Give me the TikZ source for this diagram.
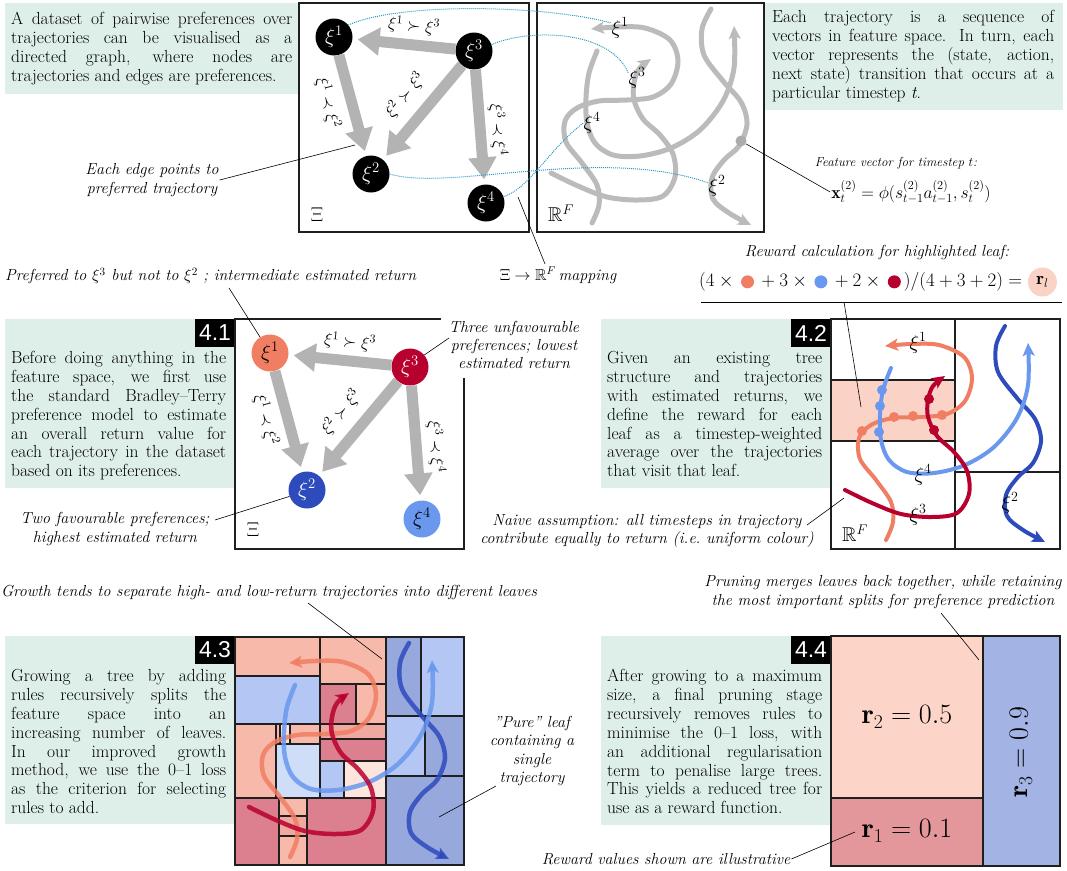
\RequirePackage{fix-cm}
\documentclass[tikz,border=0pt]{standalone}
\usepackage{amssymb}
\usepackage{fontspec}
\newfontfamily\lblfont{Liberation Sans}
\usetikzlibrary{arrows.meta}
\definecolor{mint}{HTML}{DDEFE8}
\definecolor{salm}{HTML}{F07E63}
\definecolor{crim}{HTML}{B8002E}
\definecolor{dblue}{HTML}{2E4BBE}
\definecolor{lblue}{HTML}{6A98EE}
\definecolor{edgegray}{HTML}{B3B3B3}
\definecolor{trajgray}{HTML}{BBBBBB}
\definecolor{dotcol}{HTML}{2E9AC4}
\definecolor{band}{HTML}{FBD3C6}
\definecolor{salA}{HTML}{F7B9AA}
\definecolor{salM}{HTML}{F0A9A0}
\definecolor{pinkD}{HTML}{DC7F8F}
\definecolor{pinkVL}{HTML}{FBE5DD}
\definecolor{blueL}{HTML}{B4C7F4}
\definecolor{blueM}{HTML}{97A8DC}
\definecolor{blueVL}{HTML}{CEDDF8}
\definecolor{rtwo}{HTML}{FDD5C8}
\definecolor{rone}{HTML}{E4979A}
\definecolor{rthree}{HTML}{A3B3E4}

\newcommand\trajone[1]{\draw[#1] plot[smooth,tension=.55] coordinates {(55,220) (62,202) (60,182) (45,160) (29,139) (28,118) (40,105) (62,98) (90,97) (116,94) (134,81) (141,58) (133,37) (108,25) (80,24) (54,26)};}
\newcommand\trajfour[1]{\draw[#1] plot[smooth,tension=.55] coordinates {(60,48) (52,70) (49,95) (50,120) (58,140) (76,152) (103,153) (134,145) (163,127) (186,98) (197,65) (197,23)};}
\newcommand\trajthree[1]{\draw[#1] plot[smooth,tension=.55] coordinates {(14,170) (41,183) (70,194) (101,197) (126,193) (138,174) (136,151) (123,132) (106,116) (97,97) (97,80) (102,66) (114,56)};}
\newcommand\trajtwo[1]{\draw[#1] plot[smooth,tension=.55] coordinates {(174,6) (165,26) (167,52) (186,78) (204,99) (210,121) (202,143) (187,157) (175,175) (176,196) (192,210) (214,222)};}
\newcommand\sdot[1]{\tikz[baseline=-0.6ex]\fill[#1] (0,0) circle (6.5pt);}

\begin{document}
\begin{tikzpicture}[x=1pt,y=-1pt,
  boxframe/.style={draw=black!88, line width=1.4pt},
  inner/.style={draw=black!88, line width=1.2pt},
  tagbox/.style={fill=black, text=white, font=\lblfont\fontsize{23}{23}\selectfont, minimum width=40pt, minimum height=28pt, inner sep=0pt},
  body/.style={anchor=north west, inner sep=0pt, text width=#1, align=justify, font=\fontsize{17.5}{18.9}\selectfont},
  note/.style={font=\itshape\fontsize{16}{18.3}\selectfont, inner sep=1pt, align=center},
  ptr/.style={draw=black, line width=0.6pt},
  gnode/.style={circle, minimum size=37pt, inner sep=0pt, font=\fontsize{21}{21}\selectfont},
  gedge/.style={draw=edgegray, line width=11pt, -{Triangle[length=22pt,width=27pt]}, shorten >=5pt},
  elabel/.style={font=\fontsize{17}{17}\selectfont, inner sep=0pt},
  traj/.style={line width=#1, line cap=round, -{Stealth[length=13pt,width=12pt,inset=3pt]}},
  dotline/.style={draw=dotcol, line width=1pt, densely dotted},
  cell/.style={draw=black!88, line width=1.1pt},
  spacelabel/.style={font=\fontsize{20}{20}\selectfont, inner sep=0pt},
]
\useasboundingbox (0,0) rectangle (1067,870);

% ================= TOP ROW =================
\fill[mint] (5,3) rectangle (299,94);
\node[body=281pt] (tltext) at (11,12) {A dataset of pairwise preferences over\linebreak trajectories can be visualised as a\linebreak directed graph, where nodes are\linebreak trajectories and edges are preferences.};
\fill[mint] (765,3) rectangle (1063,110);
\node[body=282pt] (trtext) at (772,10) {Each trajectory is a sequence of\linebreak vectors in feature space. In turn, each\linebreak vector represents the (state, action,\linebreak next state) transition that occurs at a\linebreak particular timestep \textit{t}.};

\draw[boxframe] (299,3) rectangle (529,232);
\draw[boxframe] (537,3) rectangle (764,232);

\begin{scope}[shift={(299,3)}]
  \node[gnode, fill=black, text=white] (t1) at (35,34) {$\xi^1$};
  \node[gnode, fill=black, text=white] (t3) at (175,48) {$\xi^3$};
  \node[gnode, fill=black, text=white] (t2) at (72,171) {$\xi^2$};
  \node[gnode, fill=black, text=white] (t4) at (187,200) {$\xi^4$};
  \draw[gedge] (t3) -- (t1);
  \draw[gedge] (t1) -- (t2);
  \draw[gedge] (t3) -- (t2);
  \draw[gedge] (t3) -- (t4);
  \node[elabel, rotate=-5] (tl13) at (115,23) {$\xi^1 \succ \xi^3$};
  \node[elabel, rotate=-75] (tl12) at (29,100) {$\xi^1 \prec \xi^2$};
  \node[elabel, rotate=50] (tl32) at (106,92) {$\xi^2 \succ \xi^3$};
  \node[elabel, rotate=-85] (tl34) at (199,127) {$\xi^3 \prec \xi^4$};
  \node[spacelabel] (txi) at (18,212) {$\Xi$};
\end{scope}

\begin{scope}[shift={(537,3)}]
  \trajtwo{traj=5pt, trajgray}
  \trajone{traj=5pt, trajgray}
  \trajfour{traj=5pt, trajgray}
  \trajthree{traj=5pt, trajgray}
  \node[circle, fill=black!33, minimum size=11pt, inner sep=0pt] (fdot) at (204,138) {};
  \node[spacelabel] (rf1) at (83,25) {$\xi^1$};
  \node[spacelabel] (rf3) at (100,75) {$\xi^3$};
  \node[spacelabel] (rf4) at (55,120) {$\xi^4$};
  \node[spacelabel] (rf2) at (180,183) {$\xi^2$};
  \node[spacelabel] (trf) at (24,210) {$\mathbb{R}^F$};
\end{scope}

\draw[dotline] (t1.40) .. controls (400,2) and (545,5) .. (rf1.150);
\draw[dotline] (t3.20) .. controls (530,28) and (610,30) .. (rf3.150);
\draw[dotline] (t2.east) .. controls (450,192) and (600,145) .. (rf2.160);
\draw[dotline] (t4.20) .. controls (530,188) and (548,150) .. (rf4.west);

\node[note, font=\itshape\fontsize{13}{15}\selectfont] (feattext) at (896,163) {Feature vector for timestep $t$:};
\node[font=\fontsize{17.5}{17.5}\selectfont, inner sep=1pt] (featform) at (911,192) {$\mathbf{x}_t^{(2)} = \phi(s_{t-1}^{(2)}a_{t-1}^{(2)}, s_t^{(2)})$};
\draw[ptr] (fdot) -- (featform.west);

\node[note] (edgenote) at (152,180) {Each edge points to\\preferred trajectory};
\coordinate (edgetgt) at (355,145);
\draw[ptr] (edgenote.east) -- (edgetgt);

\node[note] (mapnote) at (558,275) {$\Xi\rightarrow\mathbb{R}^F$\,mapping};
\coordinate (mapP) at (518,197);
\coordinate (mapQ) at (545,264);
\draw[ptr] (mapP) -- (mapQ);

% ================= MIDDLE ROW =================
\fill[mint] (5,319) rectangle (235,488);
\node[tagbox] (tag1) at (215,333) {4.1};
\node[body=215pt] (t41) at (11,351) {Before doing anything in the\linebreak feature space, we first use\linebreak the standard Bradley--Terry\linebreak preference model to estimate\linebreak an overall return value for\linebreak each trajectory in the dataset\linebreak based on its preferences.};
\draw[boxframe] (441,319) -- (235,319) -- (235,549) -- (464,549) -- (464,378);

\begin{scope}[shift={(235,319)}]
  \node[gnode, fill=salm, text=black] (m1) at (35,34) {$\xi^1$};
  \node[gnode, fill=crim, text=white] (m3) at (175,48) {$\xi^3$};
  \node[gnode, fill=dblue, text=white] (m2) at (72,171) {$\xi^2$};
  \node[gnode, fill=lblue, text=black] (m4) at (187,200) {$\xi^4$};
  \draw[gedge] (m3) -- (m1);
  \draw[gedge] (m1) -- (m2);
  \draw[gedge] (m3) -- (m2);
  \draw[gedge] (m3) -- (m4);
  \node[elabel, rotate=-5] (ml13) at (115,23) {$\xi^1 \succ \xi^3$};
  \node[elabel, rotate=-75] (ml12) at (31,101) {$\xi^1 \prec \xi^2$};
  \node[elabel, rotate=50] (ml32) at (106,93) {$\xi^2 \succ \xi^3$};
  \node[elabel, rotate=-85] (ml34) at (201,128) {$\xi^3 \prec \xi^4$};
  \node[spacelabel] (mxi) at (18,211) {$\Xi$};
\end{scope}

\node[note, anchor=west] (prefnote) at (4,276) {Preferred to $\xi^3$ but not to $\xi^2$ ; intermediate estimated return};
\coordinate (prefP) at (229,288);
\draw[ptr] (prefP) -- (m1.122);

\node[note] (unfav) at (514,345) {Three unfavourable\\preferences; lowest\\estimated return};
\coordinate (unfavP) at (449,338);
\draw[ptr] (unfavP) -- (m3.40);

\node[note] (fav) at (115,529) {Two favourable preferences;\\highest estimated return};
\coordinate (favP) at (215,520);
\draw[ptr] (favP) -- (m2.200);

% 4.2
\fill[mint] (601,319) rectangle (831,488);
\node[tagbox] (tag2) at (811,333) {4.2};
\node[body=215pt] (t42) at (607,351) {Given an existing tree\linebreak structure and trajectories\linebreak with estimated returns, we\linebreak define the reward for each\linebreak leaf as a timestep-weighted\linebreak average over the trajectories\linebreak that visit that leaf.};
\fill[band] (831,380) rectangle (955,441);
\draw[inner] (831,380) -- (955,380);
\draw[inner] (831,441) -- (955,441);
\draw[inner] (955,319) -- (955,549);
\draw[inner] (955,472) -- (1060,472);
\draw[boxframe] (831,319) rectangle (1060,549);

\begin{scope}[shift={(831,320)}]
  \trajtwo{traj=4pt, dblue}
  \trajone{traj=4pt, salm}
  \trajfour{traj=4pt, lblue}
  \trajthree{traj=4pt, crim}
  \foreach \p in {(31,111),(63,97),(82,96),(111,95)} \fill[salm] \p circle (5);
  \foreach \p in {(51,70),(49,86),(48,112)} \fill[lblue] \p circle (5);
  \foreach \p in {(98,79),(103,110)} \fill[crim] \p circle (5);
  \node[spacelabel] (b1) at (87,23) {$\xi^1$};
  \node[spacelabel] (b4) at (92,155) {$\xi^4$};
  \node[spacelabel] (b3) at (87,195) {$\xi^3$};
  \node[spacelabel] (b2) at (179,183) {$\xi^2$};
  \node[spacelabel] (brf) at (24,213) {$\mathbb{R}^F$};
\end{scope}

\node[note] (rcalc) at (877,252) {Reward calculation for highlighted leaf:};
\node[font=\fontsize{19}{19}\selectfont, anchor=west, inner sep=0pt] (rform) at (699,282) {$(4\times{}$\,\sdot{salm}\,${}+3\times{}$\,\sdot{lblue}\,${}+2\times{}$\,\sdot{crim}\,$)/(4+3+2)={}$};
\node[circle, fill=band, minimum size=29pt, inner sep=0pt, anchor=west, font=\fontsize{18}{18}\selectfont] (rl) at (rform.east) {$\mathbf{r}_l$};
\coordinate (ruleL) at (701,302);
\coordinate (ruleR) at (1062,302);
\draw[line width=0.8pt] (ruleL) -- (ruleR);
\coordinate (rcP) at (844,302);
\coordinate (rcQ) at (861,407);
\draw[ptr] (rcP) -- (rcQ);

\node[note] (naive) at (647,531) {Naive assumption: all timesteps in trajectory\\contribute equally to return (i.e.\ uniform colour)};
\coordinate (naiveP) at (807,525);
\coordinate (naiveQ) at (844,498);
\draw[ptr] (naiveP) -- (naiveQ);

% ================= BOTTOM ROW =================
\node[note] (growth) at (269,592) {Growth tends to separate high- and low-return trajectories into different leaves};
\coordinate (growP) at (308,603);
\coordinate (growQ) at (382,659);

\fill[mint] (5,636) rectangle (235,824);
\node[tagbox] (tag3) at (215,650) {4.3};
\node[body=215pt] (t43) at (11,669) {Growing a tree by adding\linebreak rules recursively splits the\linebreak feature space into an\linebreak increasing number of leaves.\linebreak In our improved growth\linebreak method, we use the 0--1 loss\linebreak as the criterion for selecting\linebreak rules to add.};

% tree cells 4.3
\draw[cell, fill=salA] (235,637) rectangle (320,676);
\draw[cell, fill=salA] (320,637) rectangle (386,684);
\draw[cell, fill=blueL] (235,676) rectangle (320,724);
\draw[cell, fill=pinkD] (320,684) rectangle (356,724);
\draw[cell, fill=salA] (356,684) rectangle (386,724);
\draw[cell, fill=salA] (235,724) rectangle (276,798);
\draw[cell, fill=salA] (276,724) rectangle (280,744);
\draw[cell, fill=pinkVL] (280,724) rectangle (290,744);
\draw[cell, fill=salA] (290,724) rectangle (320,744);
\draw[cell, fill=blueVL] (276,744) rectangle (320,798);
\draw[cell, fill=salM] (320,724) rectangle (386,739);
\draw[cell, fill=pinkD] (320,739) rectangle (386,761);
\draw[cell, fill=blueL] (320,761) rectangle (344,798);
\draw[cell, fill=pinkVL] (344,761) rectangle (386,798);
\draw[cell, fill=pinkD] (235,798) rectangle (279,865);
\draw[cell, fill=salA] (279,798) rectangle (307,816);
\draw[cell, fill=salM] (279,816) rectangle (307,836);
\draw[cell, fill=salA] (279,836) rectangle (307,865);
\draw[cell, fill=pinkD] (307,798) rectangle (386,865);
\draw[cell, fill=blueM] (386,637) rectangle (421,716);
\draw[cell, fill=blueL] (421,637) rectangle (464,716);
\draw[cell, fill=blueL] (386,716) rectangle (425,776);
\draw[cell, fill=blueM] (425,716) rectangle (464,776);
\draw[cell, fill=blueM] (386,776) rectangle (464,865);
\draw[boxframe] (235,637) rectangle (464,865);

\begin{scope}[shift={(235,637)}, opacity=.85]
  \trajtwo{traj=4.5pt, dblue}
  \trajone{traj=4.5pt, salm}
  \trajfour{traj=4.5pt, lblue}
  \trajthree{traj=4.5pt, crim}
\end{scope}
\draw[ptr] (growP) -- (growQ);

\node[note] (pure) at (532,751) {"Pure" leaf\\containing a\\single\\trajectory};
\coordinate (pureP) at (496,786);
\coordinate (pureQ) at (439,817);
\draw[ptr] (pureP) -- (pureQ);

% 4.4
\node[note] (prune) at (883,592) {Pruning merges leaves back together, while retaining\\the most important splits for preference prediction};
\fill[mint] (601,636) rectangle (831,825);
\node[tagbox] (tag4) at (811,650) {4.4};
\node[body=215pt] (t44) at (607,669) {After growing to a maximum\linebreak size, a final pruning stage\linebreak recursively removes rules to\linebreak minimise the 0--1 loss, with\linebreak an additional regularisation\linebreak term to penalise large trees.\linebreak This yields a reduced tree for\linebreak use as a reward function.};
\draw[cell, fill=rtwo] (831,636) rectangle (983,798);
\draw[cell, fill=rone] (831,798) rectangle (983,866);
\draw[cell, fill=rthree] (983,636) rectangle (1060,866);
\draw[boxframe] (831,636) rectangle (1060,866);
\node[font=\fontsize{28}{28}\selectfont] (r2) at (907,717) {$\mathbf{r}_2 = 0.5$};
\node[font=\fontsize{28}{28}\selectfont] (r1) at (907,831) {$\mathbf{r}_1 = 0.1$};
\node[font=\fontsize{28}{28}\selectfont, rotate=90] (r3) at (1021,752) {$\mathbf{r}_3 = 0.9$};
\coordinate (pruneP) at (941,613);
\coordinate (pruneQ) at (979,660);
\draw[ptr] (pruneP) -- (pruneQ);

\node[note] (illus) at (666,859) {Reward values shown are illustrative};
\coordinate (illusQ) at (855,832);
\draw[ptr] (illus.east) -- (illusQ);

\end{tikzpicture}
\end{document}
